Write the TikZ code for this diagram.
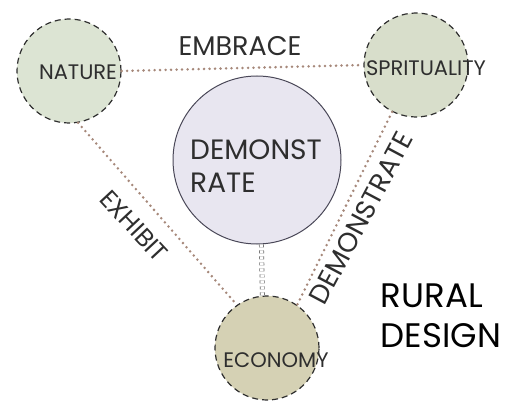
\documentclass[tikz,border=0pt]{standalone}
\usepackage{fontspec}
\setmainfont{Poppins}
\usetikzlibrary{positioning}
\definecolor{ink}{HTML}{2E2E2E}
\definecolor{dots}{HTML}{A6887A}
\definecolor{leaf}{HTML}{DCE4D3}
\definecolor{moss}{HTML}{D8DECB}
\definecolor{khaki}{HTML}{D5D1B4}
\definecolor{lilac}{HTML}{E8E6F0}
\definecolor{rim}{HTML}{4A4858}

\begin{document}
\begin{tikzpicture}[x=1pt, y=-1pt,
          hub/.style={circle, draw=ink, line width=1.2pt, dash pattern=on 6pt off 4pt,
                      minimum size=104pt, inner sep=0pt},
          tag/.style={font=\fontsize{21}{24}\selectfont, text=ink, inner sep=0pt},
          core/.style={circle, draw=rim, fill=lilac, line width=1pt, minimum size=168pt},
          link/.style={dots, line width=2.8pt, line cap=round, dash pattern=on 0pt off 5.5pt},
          lbl/.style={font=\fontsize{27}{30}\selectfont, text=ink}]
        \useasboundingbox (0,0) rectangle (506,401);
        % the four circles
        \node[core] (core) at (257,160) {};
        \node[hub, fill=leaf] (nat) at (69,71) {};
        \node[hub, fill=moss] (spi) at (416,65) {};
        \node[hub, fill=khaki] (eco) at (267,348) {};
        \node[tag] (natname) at (78,72) {NATURE};
        \node[tag] (spiname) at (426,68) {SPRITUALITY};
        \node[tag] (econame) at (276,360) {ECONOMY};
        \node[align=left, font=\fontsize{28}{33}\selectfont, text=ink] (dem) at (256,166)
          {DEMONST\\RATE};
        % dotted links between the outer circles
        \draw[link] (nat.east) -- (spi.west);
        \draw[link] (nat.-80) -- (eco.125);
        \draw[link] (spi.243) -- (eco.55);
        \draw[gray!80!black, double=white, double distance=3.5pt, dashed, line width=0.7pt]
          (core.-87) -- (eco.95);
        % link labels
        \node[lbl] (emb) at (240,46) {EMBRACE};
        \node[lbl, font=\fontsize{25}{30}\selectfont, rotate=-47] (exh) at (134,226) {EXHIBIT};
        \node[lbl, rotate=62] (dst) at (361,218) {DEMONSTRATE};
        \node[align=left, font=\fontsize{34}{40}\selectfont, text=black] (rur) at (441,316)
          {RURAL\\DESIGN};
      \end{tikzpicture}
\end{document}
